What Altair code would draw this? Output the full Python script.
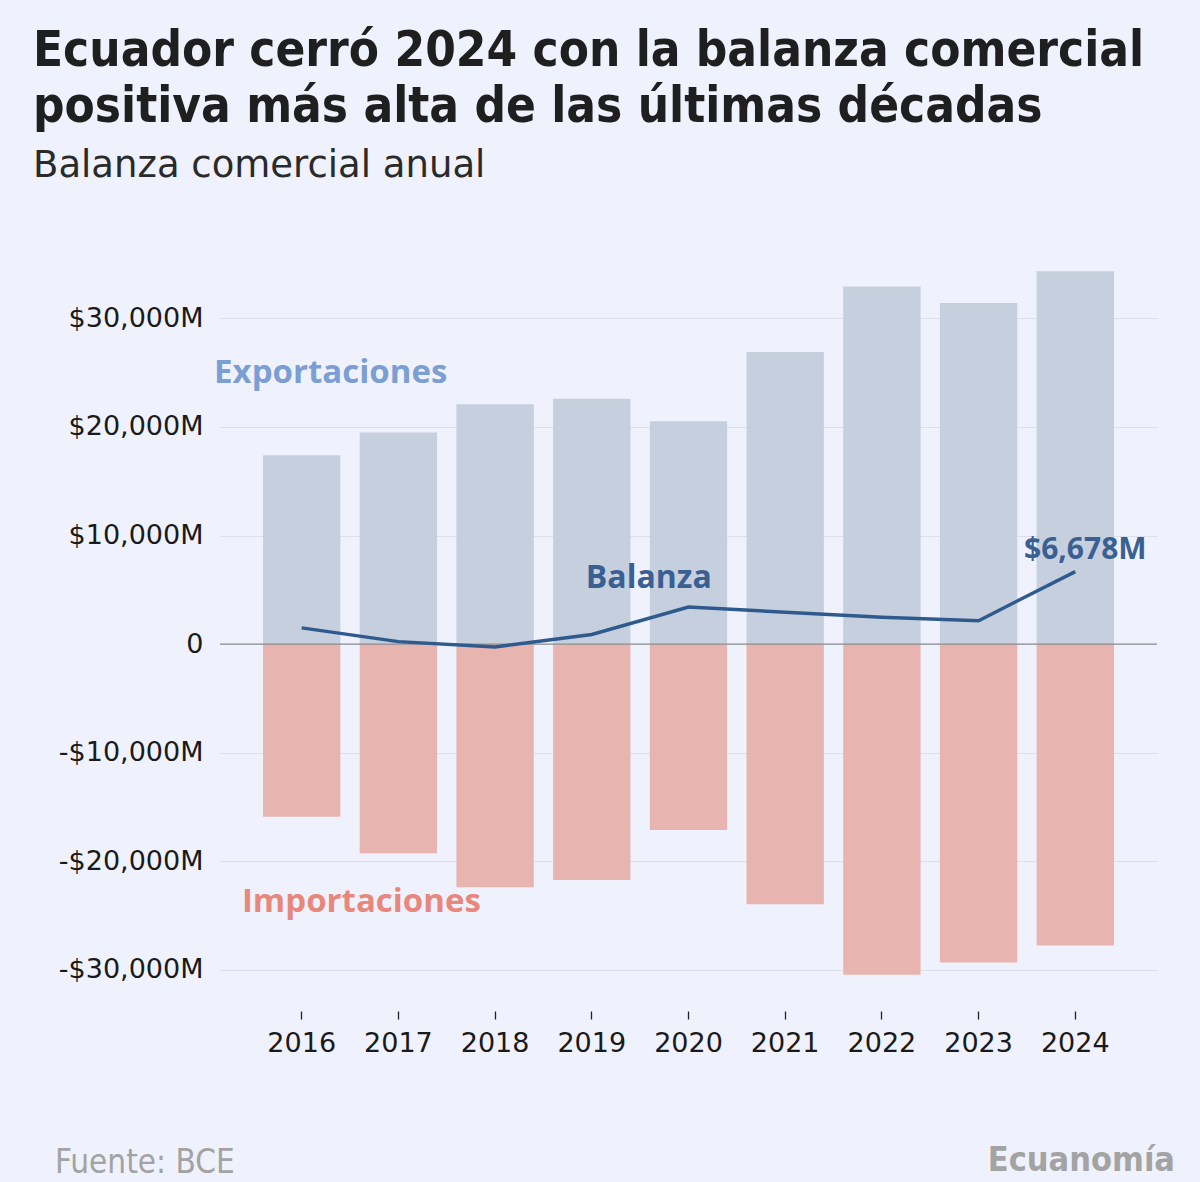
import altair as alt
import pandas as pd

years = ["2016", "2017", "2018", "2019", "2020", "2021", "2022", "2023", "2024"]
exportaciones = [17390, 19480, 22080, 22600, 20520, 26890, 32930, 31400, 34340]
importaciones = [15890, 19260, 22380, 21710, 17110, 23950, 30450, 29320, 27750]
balanza = [1500, 230, -260, 890, 3420, 2940, 2470, 2160, 6678]

BG = "#EFF2FC"
EXP_C = "#C5CFDE"
IMP_C = "#E7B4B0"
LINE_C = "#2F5A8E"

bars_df = pd.DataFrame({
    "year": years * 2,
    "value": exportaciones + [-v for v in importaciones],
    "serie": ["Exportaciones"] * len(years) + ["Importaciones"] * len(years),
})
bal_df = pd.DataFrame({"year": years, "value": balanza})

ann_years = ["2016", "2017", "2019", "2024"]
ann_values = [25000, -23700, 6100, 8700]
ann_texts = ["Exportaciones", "Importaciones", "Balanza", "$6,678M"]

footer_df = pd.DataFrame({"text": ["Fuente: BCE"]})
brand_df = pd.DataFrame({"text": ["Ecuanomía"]})

xenc = alt.X(
    "year:N",
    sort=years,
    scale=alt.Scale(paddingInner=0.2, paddingOuter=0.445),
    axis=alt.Axis(
        title=None, labelAngle=0, domain=False, ticks=True, tickSize=8,
        tickColor="#222222", tickWidth=1.3, offset=3, labelPadding=11,
        labelFontSize=27, labelColor="#1a1a1a", labelFont="DejaVu Sans", grid=False,
    ),
)
yscale = alt.Scale(domain=[-33500, 35000], nice=False)

bars = alt.Chart(bars_df).mark_bar().encode(
    x=xenc,
    y=alt.Y(
        "value:Q", scale=yscale, stack=None,
        axis=alt.Axis(
            title=None, values=[-30000, -20000, -10000, 0, 10000, 20000, 30000],
            labelExpr="datum.value == 0 ? '0' : (datum.value < 0 ? '-' : '') + '$' + format(abs(datum.value), ',') + 'M'",
            domain=False, ticks=False, labelPadding=17, labelFontSize=27,
            labelFont="DejaVu Sans", labelColor="#1a1a1a",
            grid=True, gridColor="#DCDFE9", gridWidth=1,
        ),
    ),
    color=alt.Color("serie:N", scale=alt.Scale(domain=["Exportaciones", "Importaciones"], range=[EXP_C, IMP_C]), legend=None),
)

zero = alt.Chart(pd.DataFrame({"value": [0]})).mark_rule(color="#8C8C8C", strokeWidth=1.3).encode(
    y=alt.Y("value:Q", scale=yscale)
)

line = alt.Chart(bal_df).mark_line(color=LINE_C, strokeWidth=3.4).encode(
    x=alt.X("year:N", sort=years),
    y=alt.Y("value:Q", scale=yscale),
)

def ann(i, color, size, dx):
    d = pd.DataFrame({"year": [ann_years[i]], "value": [ann_values[i]], "text": [ann_texts[i]]})
    return alt.Chart(d).mark_text(
        font="Open Sans", fontWeight="bold", fontSize=size, color=color,
        align="center", baseline="middle", dx=dx,
    ).encode(x=alt.X("year:N", sort=years), y=alt.Y("value:Q", scale=yscale), text="text:N")

exp_lbl = ann(0, "#7B9FD2", 33, 29)
imp_lbl = ann(1, "#E8877B", 33, -37)
bal_lbl = ann(2, "#3A5F92", 32, 57)
val_lbl = ann(3, "#3A5F92", 30, 10)

footer = alt.Chart(footer_df).mark_text(
    font="DejaVu Sans Condensed", fontSize=33, color="#A3A3A3", align="left", baseline="middle"
).encode(x=alt.value(-165), y=alt.value(899), text="text:N")
brand = alt.Chart(brand_df).mark_text(
    font="DejaVu Sans Condensed", fontWeight="bold", fontSize=34, color="#A3A3A3", align="right", baseline="middle"
).encode(x=alt.value(955), y=alt.value(897), text="text:N")

chart = alt.layer(bars, zero, line, exp_lbl, imp_lbl, bal_lbl, val_lbl, footer, brand).properties(
    width=937,
    height=744,
    background=BG,
    padding={"left": 220, "top": 264, "right": 43, "bottom": 174},
    autosize=alt.AutoSizeParams(type="none"),
    title=alt.TitleParams(
        text=["Ecuador cerró 2024 con la balanza comercial", "positiva más alta de las últimas décadas"],
        subtitle="Balanza comercial anual",
        anchor="start", frame="group", orient="top",
        font="DejaVu Sans Condensed", fontWeight="bold", fontSize=49, color="#1f1f1f", lineHeight=56,
        subtitleFont="DejaVu Sans", subtitleFontSize=37, subtitleColor="#2a2a2a",
        subtitleFontWeight="normal", subtitlePadding=16, dx=-187, offset=80,
    ),
).configure_view(strokeOpacity=0, strokeWidth=0)

chart.save("out.html", embed_options={"renderer": "svg", "actions": False})
